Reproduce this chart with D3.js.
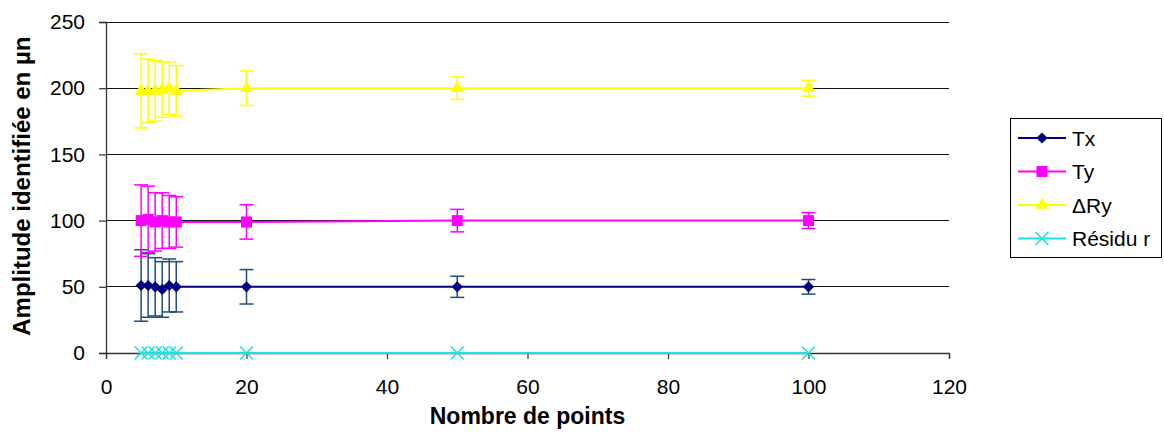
<!DOCTYPE html>
<html><head><meta charset="utf-8">
<script src="https://cdn.jsdelivr.net/npm/d3@7"></script>
<style>body{margin:0;background:#fff}svg{display:block;font-family:"Liberation Sans",Arial,sans-serif}</style>
</head><body>
<svg id="c" width="1164" height="445"></svg>
<script>
const xPoints = [5, 6, 7, 8, 9, 10, 20, 50, 100];
const txVals = [51, 51, 50, 48, 51, 50, 50, 50, 50];
const txErr = [27, 24, 22, 21, 20, 19, 13, 8, 5.5];
const tyVals = [100, 101, 99, 100, 99, 99, 99, 100, 100];
const tyErr = [27, 25, 22, 21, 20, 19, 13, 8.5, 6];
const dryVals = [198, 198, 198, 199, 200, 198, 200, 200, 200];
const dryErr = [28, 24, 23, 21, 20, 19, 13, 8.5, 6];
const resVals = [0, 0, 0, 0, 0, 0, 0, 0, 0];
const seriesNames = ["Tx", "Ty", "\u0394Ry", "R\u00e9sidu r"];
const xTicks = [0, 20, 40, 60, 80, 100, 120];
const yTicks = [0, 50, 100, 150, 200, 250];

const series = [
  {name: seriesNames[0], vals: txVals, err: txErr, color: "#000080", errColor: "#1F4E79", sym: "diamond"},
  {name: seriesNames[1], vals: tyVals, err: tyErr, color: "#FF00FF", errColor: "#FF00FF", sym: "square"},
  {name: seriesNames[2], vals: dryVals, err: dryErr, color: "#FFFF00", errColor: "#FFFF00", sym: "triangle"},
  {name: seriesNames[3], vals: resVals, err: null, color: "#22E0E0", errColor: "#22E0E0", sym: "x"}
];

const FONT = '"Liberation Sans",Arial,sans-serif';
const svg = d3.select("#c");
const x = d3.scaleLinear().domain([0, 120]).range([106, 949]);
const y = d3.scaleLinear().domain([0, 250]).range([353, 22]);

// gridlines
svg.append("g").selectAll("line").data(yTicks.filter(d => d > 0)).join("line")
  .attr("x1", x(0)).attr("x2", x(120)).attr("y1", d => y(d)).attr("y2", d => y(d))
  .attr("stroke", "#111").attr("stroke-width", 1).attr("shape-rendering", "crispEdges");

// axes
const xAxis = svg.append("g").attr("transform", `translate(0,${y(0)})`)
  .call(d3.axisBottom(x).tickValues(xTicks).tickSize(6).tickPadding(20).tickFormat(d3.format("d")));
const yAxis = svg.append("g").attr("transform", `translate(${x(0)},0)`)
  .call(d3.axisLeft(y).tickValues(yTicks).tickSize(7).tickPadding(14).tickFormat(d3.format("d")));
[xAxis, yAxis].forEach(a => {
  a.select(".domain").attr("stroke", "#333").attr("stroke-width", 1.3);
  a.selectAll(".tick line").attr("stroke", "#333").attr("stroke-width", 1.2);
  a.selectAll("text").attr("font-size", 21).attr("fill", "#000").attr("font-family", FONT);
});

function symPath(sym) {
  if (sym === "diamond") return d3.symbol(d3.symbolDiamond2, 80)();
  if (sym === "square") return d3.symbol(d3.symbolSquare, 121)();
  if (sym === "triangle") return d3.symbol(d3.symbolTriangle, 75)();
  const h = 6.5;
  return `M${-h},${-h}L${h},${h}M${-h},${h}L${h},${-h}`;
}

const line = d3.line().x(d => x(d[0])).y(d => y(d[1]));

series.forEach(s => {
  const pts = xPoints.map((xv, i) => [xv, s.vals[i], s.err ? s.err[i] : 0]);
  const g = svg.append("g");
  g.append("path").attr("d", line(pts)).attr("fill", "none").attr("stroke", s.color).attr("stroke-width", 2);
  if (s.err) {
    const eb = g.append("g").attr("stroke", s.errColor).attr("stroke-width", 1.5).attr("fill", "none");
    pts.forEach(p => {
      const cx = x(p[0]), top = y(p[1] + p[2]), bot = y(p[1] - p[2]);
      eb.append("line").attr("x1", cx).attr("x2", cx).attr("y1", top).attr("y2", bot);
      eb.append("line").attr("x1", cx - 7).attr("x2", cx + 7).attr("y1", top).attr("y2", top);
      eb.append("line").attr("x1", cx - 7).attr("x2", cx + 7).attr("y1", bot).attr("y2", bot);
    });
  }
  g.selectAll("path.m").data(pts).join("path").attr("class", "m")
    .attr("transform", d => `translate(${x(d[0])},${y(d[1])})`)
    .attr("d", symPath(s.sym))
    .attr("fill", s.sym === "x" ? "none" : s.color)
    .attr("stroke", s.color).attr("stroke-width", s.sym === "x" ? 1.6 : 0);
});

// axis titles
svg.append("text").attr("x", x(60)).attr("y", 424).attr("text-anchor", "middle")
  .attr("font-size", 23).attr("font-weight", "bold").text("Nombre de points");
svg.append("text").attr("transform", `translate(30,${y(126)}) rotate(-90)`).attr("text-anchor", "middle")
  .attr("font-size", 24).attr("font-weight", "bold").text("Amplitude identifi\u00e9e en \u00b5n");

// legend
const lg = svg.append("g").attr("transform", "translate(1010,118)");
lg.append("rect").attr("x", 0.5).attr("y", 0.5).attr("width", 151).attr("height", 139)
  .attr("fill", "#fff").attr("stroke", "#000").attr("stroke-width", 1);
series.forEach((s, i) => {
  const ly = 20 + i * 33.5;
  const r = lg.append("g").attr("transform", `translate(0,${ly})`);
  r.append("line").attr("x1", 8).attr("x2", 56).attr("y1", 0).attr("y2", 0).attr("stroke", s.color).attr("stroke-width", 2);
  r.append("path").attr("transform", "translate(32,0)").attr("d", symPath(s.sym))
    .attr("fill", s.sym === "x" ? "none" : s.color).attr("stroke", s.color).attr("stroke-width", s.sym === "x" ? 1.6 : 0);
  r.append("text").attr("x", 62).attr("y", 7.5).attr("font-size", 21).text(s.name);
});
</script>
</body></html>
